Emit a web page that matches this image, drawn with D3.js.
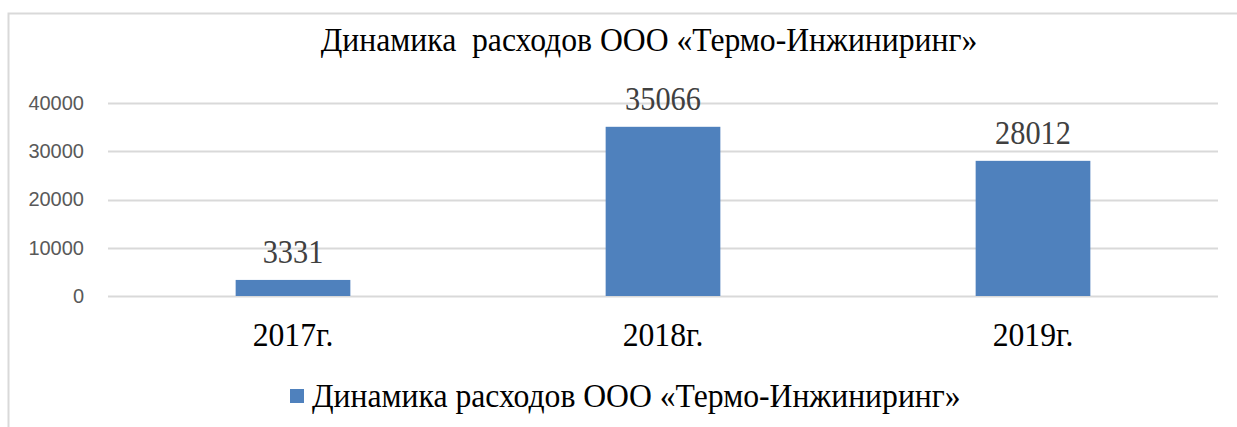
<!DOCTYPE html>
<html>
<head>
<meta charset="utf-8">
<script src="https://cdn.jsdelivr.net/npm/d3@7"></script>
<style>
  html, body { margin: 0; padding: 0; background: #fff; overflow: hidden; }
</style>
</head>
<body>
<svg id="chart" width="1237" height="427"></svg>
<script>
// chart data
var years = ['2017г.', '2018г.', '2019г.'];
var expenses = [3331, 35066, 28012];
var yTicks = [0, 10000, 20000, 30000, 40000];
var chartTitle = 'Динамика  расходов ООО «Термо-Инжиниринг»';
var seriesName = 'Динамика расходов ООО «Термо-Инжиниринг»';

var svg = d3.select('#chart');
var W = 1237, H = 427;
var plot = { l: 108, r: 1218, t: 103, b: 296 };
var serif = '"Liberation Serif", "Times New Roman", serif';
var barColor = '#4f81bd';

// frame (cropped on right and bottom)
svg.append('rect')
    .attr('x', 8.5).attr('y', 13.5)
    .attr('width', W + 20).attr('height', H + 20)
    .style('fill', 'white')
    .style('stroke', '#d9d9d9')
    .style('stroke-width', 2);

var x = d3.scaleBand()
    .domain(years)
    .range([plot.l, plot.r])
    .paddingInner(0.69)
    .paddingOuter(0.345);

var y = d3.scaleLinear()
    .domain([0, 40000])
    .range([plot.b, plot.t]);

// gridlines
svg.append('g')
    .selectAll('line')
    .data(yTicks)
    .enter()
    .append('line')
    .attr('x1', plot.l).attr('x2', plot.r)
    .attr('y1', function (d) { return Math.round(y(d)) + 0.5; })
    .attr('y2', function (d) { return Math.round(y(d)) + 0.5; })
    .style('stroke', '#d9d9d9')
    .style('stroke-width', 2);

// y axis labels
var yAxis = d3.axisLeft(y).tickValues(yTicks).tickSize(0).tickPadding(24)
    .tickFormat(d3.format('d'));
var yG = svg.append('g')
    .attr('transform', 'translate(' + [plot.l, 0] + ')')
    .call(yAxis);
yG.select('.domain').remove();
yG.selectAll('text')
    .style('font-family', '"Liberation Sans", Arial, sans-serif')
    .style('font-size', '20px')
    .style('fill', '#595959');

// bars
svg.append('g')
    .selectAll('rect')
    .data(expenses)
    .enter()
    .append('rect')
    .attr('x', function (d, i) { return x(years[i]); })
    .attr('y', function (d) { return y(d); })
    .attr('width', x.bandwidth())
    .attr('height', function (d) { return y(0) - y(d); })
    .style('fill', barColor);

function serifText(g, px, py, size, sx, txt, color) {
    return g.append('text')
        .attr('transform', 'translate(' + [px, py] + ') scale(' + sx + ',1)')
        .style('font-family', serif)
        .style('font-size', size + 'px')
        .style('fill', color)
        .style('text-anchor', 'middle')
        .style('white-space', 'pre')
        .text(txt);
}

// data labels
expenses.forEach(function (d, i) {
    serifText(svg, x(years[i]) + x.bandwidth() / 2, y(d) - 17, 33, 0.92, d, '#404040');
});

// category labels
years.forEach(function (c) {
    serifText(svg, x(c) + x.bandwidth() / 2, 346, 33, 0.96, c, '#000');
});

// title
serifText(svg, 649, 51, 33, 0.96, chartTitle, '#000');

// legend
var lg = svg.append('g');
lg.append('rect')
    .attr('x', 290).attr('y', 389)
    .attr('width', 14).attr('height', 14)
    .style('fill', barColor);
lg.append('text')
    .attr('transform', 'translate(' + [312, 407] + ') scale(0.96,1)')
    .style('font-family', serif)
    .style('font-size', '33px')
    .style('fill', '#000')
    .text(seriesName);
</script>
</body>
</html>
